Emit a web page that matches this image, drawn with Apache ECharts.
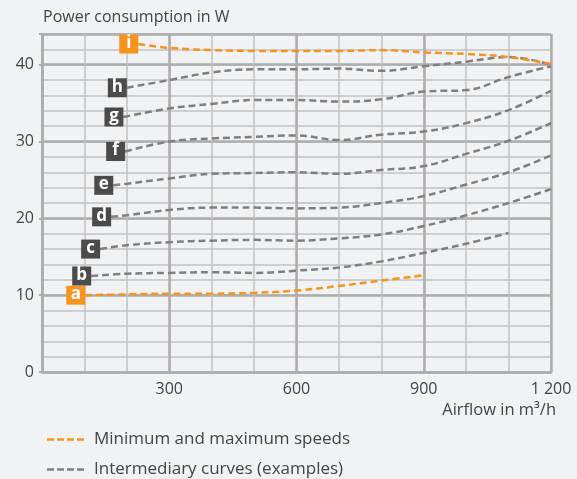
<!DOCTYPE html>
<html><head><meta charset="utf-8">
<script src="https://cdn.jsdelivr.net/npm/echarts@6/dist/echarts.min.js"></script>
<style>html,body{margin:0;padding:0;background:#f1f2f4}#c{width:577px;height:479px}</style>
</head><body><div id="c"></div>
<script>
// Airflow (m3/h), power (W) pairs
const curveA = [[102,10.0],[200,10.1],[300,10.2],[400,10.2],[500,10.3],[600,10.6],[700,11.2],[800,11.9],[900,12.6]];
const curveB = [[116,12.5],[200,12.8],[300,12.9],[400,13.0],[500,12.9],[600,13.2],[700,13.6],[800,14.4],[900,15.5],[1000,16.7],[1100,18.1]];
const curveC = [[137,16.0],[200,16.5],[300,16.9],[400,17.1],[500,17.2],[600,17.1],[700,17.4],[800,17.9],[900,19.0],[1000,20.4],[1100,22.0],[1200,23.8]];
const curveD = [[163,20.2],[200,20.4],[300,21.1],[400,21.4],[500,21.4],[600,21.3],[700,21.4],[800,22.0],[900,22.9],[1000,24.4],[1100,26.0],[1200,28.2]];
const curveE = [[168,24.3],[200,24.5],[300,25.2],[400,25.8],[500,25.9],[600,26.0],[700,25.8],[800,26.3],[900,26.8],[1000,28.4],[1100,30.1],[1200,32.4]];
const curveF = [[196,28.7],[300,30.0],[400,30.4],[500,30.6],[600,30.8],[700,30.2],[800,30.9],[900,31.3],[1000,32.4],[1100,34.1],[1200,36.6]];
const curveG = [[192,33.2],[300,34.3],[400,34.9],[500,35.4],[600,35.4],[700,35.2],[800,35.5],[900,36.5],[1000,36.7],[1100,38.4],[1200,39.8]];
const curveH = [[200,37.0],[300,38.0],[400,39.0],[500,39.4],[600,39.4],[700,39.5],[800,39.2],[900,39.8],[1000,40.4],[1100,41.0],[1200,40.0]];
const curveI = [[227,42.7],[300,42.2],[400,41.9],[500,41.8],[600,41.8],[700,41.8],[800,41.9],[900,41.6],[1000,41.4],[1100,41.0],[1200,40.1]];
const curveLetters = ['a','b','c','d','e','f','g','h','i'];
const legendNames = ['Minimum and maximum speeds','Intermediary curves (examples)'];
const yTitle = 'Power consumption in W';
const xTitle = 'Airflow in m³/h';

const ORANGE = '#f7941d', GRAY = '#7f7f7f', BOX_GRAY = '#4b4b4b';
const FONT = 'Open Sans';
const curves = [curveA,curveB,curveC,curveD,curveE,curveF,curveG,curveH,curveI];
const series = curves.map((d, k) => {
  const extreme = (k === 0 || k === 8);
  return {
    type: 'line', name: extreme ? legendNames[0] : legendNames[1],
    data: d, smooth: 0.4, symbol: 'none', xAxisIndex: 0, yAxisIndex: 0,
    lineStyle: {color: extreme ? ORANGE : GRAY, width: 2.5, type: [7,4]},
    itemStyle: {color: extreme ? ORANGE : GRAY},
    z: extreme ? 4 : 3,
    markPoint: {
      symbol: 'rect', symbolSize: [19,19], symbolOffset: [-9.5, 0], silent: true,
      itemStyle: {color: extreme ? ORANGE : BOX_GRAY},
      label: {show: true, formatter: curveLetters[k], color: '#fff', fontFamily: FONT, fontWeight: 'bold', fontSize: 17, offset:[0,-1]},
      data: [{coord: d[0]}]
    }
  };
});

const dashIcon = 'path://M0,0h7v2.5h-7z M10,0h7v2.5h-7z M20,0h7v2.5h-7z M30,0h7v2.5h-7z';
const legendBase = {
  orient: 'horizontal', left: 42, icon: dashIcon, itemWidth: 37, itemHeight: 2.5, selectedMode: false,
  textStyle: {fontFamily: FONT, fontSize: 17, color: '#444', padding: [0,0,0,5]}
};
const minorLine = {show: true, lineStyle: {color: '#c2c2c2', width: 1.5}};
const majorLine = {show: true, lineStyle: {color: '#adadad', width: 2.5}};
const chart = echarts.init(document.getElementById('c'));
chart.setOption({
  backgroundColor: '#f1f2f4',
  animation: false,
  grid: {left: 42, right: 26, top: 34, bottom: 107, containLabel: false},
  legend: [
    Object.assign({}, legendBase, {top: 426, data: [legendNames[0]]}),
    Object.assign({}, legendBase, {top: 456, data: [legendNames[1]]})
  ],
  xAxis: [
    {type: 'value', min: 0, max: 1200, interval: 100, position: 'bottom',
     axisLine: {show: false}, axisTick: {show: false}, axisLabel: {show: false}, splitLine: minorLine},
    {type: 'value', min: 0, max: 1200, interval: 300, position: 'bottom',
     axisLine: {show: true, onZero: false, lineStyle: {color: '#adadad', width: 2.5}},
     axisTick: {show: false}, splitLine: majorLine,
     axisLabel: {show: true, margin: 9, fontFamily: FONT, fontSize: 16, color: '#444',
       formatter: v => v === 0 ? '' : (v >= 1000 ? String(v).replace(/(\d)(\d{3})$/, '$1 $2') : String(v))},
     name: xTitle, nameLocation: 'end', nameGap: 5,
     nameTextStyle: {fontFamily: FONT, fontSize: 16.5, color: '#444', align: 'right', verticalAlign: 'top', padding: [30,0,0,0]}}
  ],
  yAxis: [
    {type: 'value', min: 0, max: 44, interval: 2, position: 'left',
     axisLine: {show: false}, axisTick: {show: false}, axisLabel: {show: false}, splitLine: minorLine,
     name: yTitle, nameLocation: 'end', nameGap: 9,
     nameTextStyle: {fontFamily: FONT, fontSize: 16, color: '#444', align: 'left', padding: [0,0,0,1]}},
    {type: 'value', min: 0, max: 44, interval: 10, position: 'left',
     axisLine: {show: true, onZero: false, lineStyle: {color: '#adadad', width: 2.5}},
     axisTick: {show: true, length: 3, lineStyle: {color: '#adadad', width: 2}},
     splitLine: majorLine, showMaxLabel: false,
     axisLabel: {margin: 8, fontFamily: FONT, fontSize: 16, color: '#444',
       formatter: v => (v % 10 === 0 ? String(v) : '')}}
  ],
  series: series
});
</script></body></html>
